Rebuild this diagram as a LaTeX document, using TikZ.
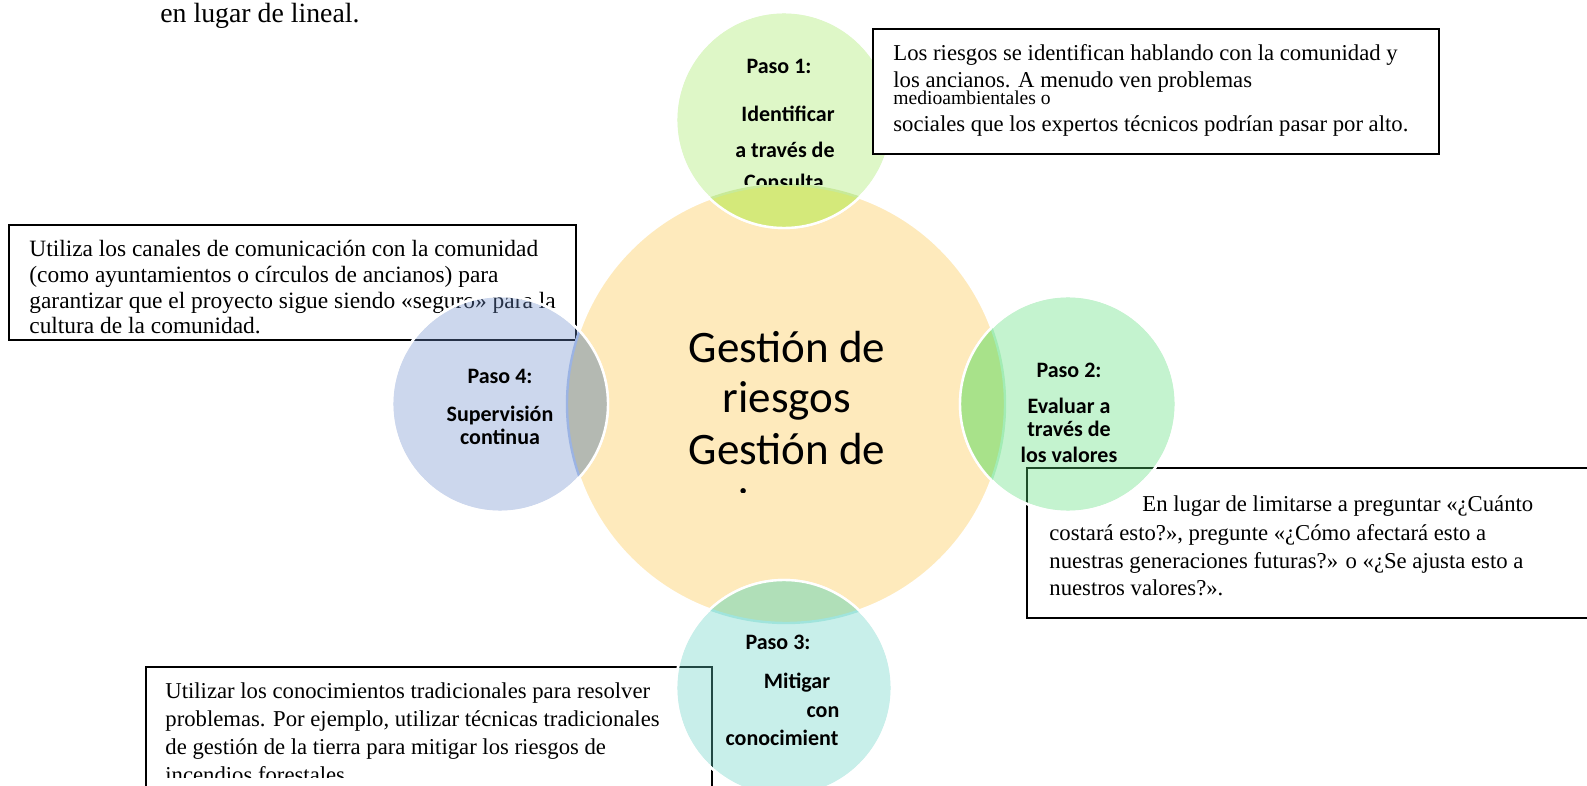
\documentclass[tikz,border=0pt]{standalone}
\usepackage{fontspec}
\setmainfont{Liberation Serif}
\newfontfamily\calibri{Carlito}
\definecolor{hubfill}{HTML}{FEEABC}
\definecolor{onefill}{HTML}{A1E85F}
\definecolor{twofill}{HTML}{56DD76}
\definecolor{threefill}{HTML}{62D1C3}
\definecolor{fourfill}{HTML}{6D8DCC}
\definecolor{onelens}{HTML}{D4E97A}
\definecolor{twolens}{HTML}{A8E28A}
\definecolor{threelens}{HTML}{B0DFB8}
\definecolor{fourlens}{HTML}{B4B9B2}
\definecolor{onerim}{HTML}{C8EA98}
\definecolor{tworim}{HTML}{A2ECB4}
\definecolor{threerim}{HTML}{A0E4DC}
\definecolor{fourrim}{HTML}{9BB3E3}
\begin{document}
\begin{tikzpicture}[x=0.5pt,y=-0.5pt,
hub/.style={fill=hubfill,draw=white,line width=1.2pt},
stepdisc/.style={draw=white,line width=1.2pt,fill opacity=0.35},
notebox/.style={draw=black,fill=white,line width=0.65pt},
notetext/.style={anchor=base west,inner sep=0pt,font=\fontsize{11.35}{13}\selectfont},
widetext/.style={notetext,font=\fontsize{11.7}{13}\selectfont},
steptext/.style={anchor=base,inner sep=0pt,font=\calibri\bfseries\fontsize{11}{13}\selectfont},
hubtext/.style={anchor=base,inner sep=0pt,font=\calibri\fontsize{22.5}{27}\selectfont}]
\useasboundingbox (0,0) rectangle (1587,786);
\clip (0,0) rectangle (1587,786);

\draw (160,22.5) node[notetext,font=\fontsize{13.9}{16}\selectfont] (intro) {en lugar de lineal.};

% boxes lying under the circles
\draw[notebox] (9,225) rectangle (576,340);
\draw (29,256.5) node[widetext] (note4a) {Utiliza los canales de comunicación con la comunidad};
\draw (29,282.5) node[widetext] (note4b) {(como ayuntamientos o círculos de ancianos) para};
\draw (29,308.5) node[widetext] (note4c) {garantizar que el proyecto sigue siendo «seguro» para la};
\draw (29,333.5) node[widetext] (note4d) {cultura de la comunidad.};

\draw[notebox] (1027,468) rectangle (1600,618);
\draw (1142,512) node[notetext] (note2a) {En lugar de limitarse a preguntar «¿Cuánto};
\draw (1049,540) node[notetext] (note2b) {costará esto?», pregunte «¿Cómo afectará esto a};
\draw (1049,568) node[notetext] (note2c) {nuestras generaciones futuras?» o «¿Se ajusta esto a};
\draw (1049,596) node[notetext] (note2d) {nuestros valores?».};

\draw[notebox] (146,667) rectangle (712,800);
\begin{scope}
\clip (146,667) rectangle (712,777);
\draw (165,698) node[notetext] (note3a) {Utilizar los conocimientos tradicionales para resolver};
\draw (165,726) node[notetext] (note3b) {problemas. Por ejemplo, utilizar técnicas tradicionales};
\draw (165,754) node[notetext] (note3c) {de gestión de la tierra para mitigar los riesgos de};
\draw (165,782) node[notetext] (note3d) {incendios forestales.};
\end{scope}

% circles
\draw[hub] (786,404) circle (109.5pt);
\draw[stepdisc,fill=onefill] (784,120) circle (54pt);
\draw[stepdisc,fill=twofill] (1068,404) circle (54pt);
\draw[stepdisc,fill=threefill] (784,688) circle (54pt);
\draw[stepdisc,fill=fourfill] (500,404) circle (54pt);

% overlaps with the hub
\foreach \cx/\cy/\nm in {784/120/one,1068/404/two,784/688/three,500/404/four}{
  \begin{scope}
  \clip (786,404) circle (109.5pt);
  \fill[\nm lens] (\cx,\cy) circle (54pt);
  \end{scope}
  \begin{scope}
  \clip (\cx,\cy) circle (54pt);
  \draw[\nm rim,line width=1.2pt] (786,404) circle (109.5pt);
  \end{scope}
  \draw[white,line width=1.2pt] (\cx,\cy) circle (54pt);
}

% box lying over step 1
\draw[notebox] (873,29) rectangle (1439,154);
\draw (893,60.5) node[notetext] (note1a) {Los riesgos se identifican hablando con la comunidad y};
\draw (893,87.5) node[notetext] (note1b) {los ancianos. A menudo ven problemas};
\draw (893,105) node[notetext,font=\fontsize{9.8}{11}\selectfont] (note1c) {medioambientales o};
\draw (893,131.5) node[notetext] (note1d) {sociales que los expertos técnicos podrían pasar por alto.};

% step labels
\draw (779,74) node[steptext] (step1a) {Paso 1:};
\draw (788,121.7) node[steptext] (step1b) {Identificar};
\draw (785,158) node[steptext] (step1c) {a través de};
\begin{scope}
\clip (680,160) rectangle (890,185);
\draw (784,189.5) node[steptext] (step1d) {Consulta};
\end{scope}
\draw (1069,378) node[steptext] (step2a) {Paso 2:};
\draw (1069,413.3) node[steptext] (step2b) {Evaluar a};
\draw (1069,437) node[steptext] (step2c) {través de};
\draw (1069,462.7) node[steptext] (step2d) {los valores};
\draw (778,649) node[steptext] (step3a) {Paso 3:};
\draw (797,688) node[steptext] (step3b) {Mitigar};
\draw (823,717) node[steptext] (step3c) {con};
\draw (782,745) node[steptext] (step3d) {conocimient};
\draw (500,384) node[steptext] (step4a) {Paso 4:};
\draw (500,421.7) node[steptext] (step4b) {Supervisión};
\draw (500,445) node[steptext] (step4c) {continua};

% hub title, cut by its frame
\begin{scope}
\clip (600,300) rectangle (980,493);
\draw (787,363) node[hubtext] (huba) {Gestión de};
\draw (787,413) node[hubtext] (hubb) {riesgos};
\draw (787,465) node[hubtext] (hubc) {Gestión de};
\draw (787,519) node[hubtext] (hubd) {riesgos};
\end{scope}
\end{tikzpicture}
\end{document}
